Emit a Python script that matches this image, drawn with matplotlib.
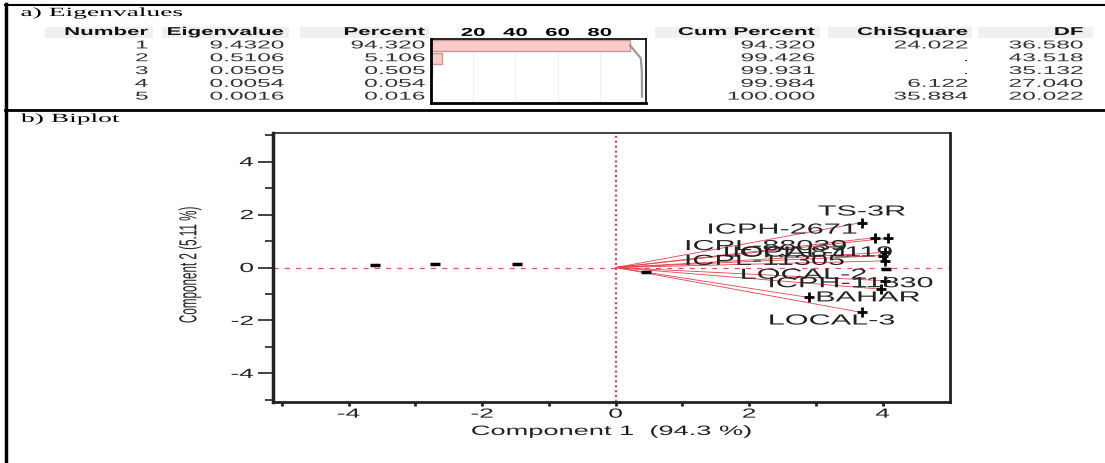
import matplotlib
matplotlib.use("Agg")
import matplotlib.pyplot as plt
from matplotlib.patheffects import AbstractPathEffect
from matplotlib.transforms import Affine2D
from matplotlib.lines import Line2D
from matplotlib.patches import Rectangle

plt.rcParams["font.family"] = ["Liberation Sans", "DejaVu Sans"]
plt.rcParams["axes.unicode_minus"] = False

W, H = 1105, 464

# a) Eigenvalues table
NUMBER = [1, 2, 3, 4, 5]
EIGENVALUE = [9.4320, 0.5106, 0.0505, 0.0054, 0.0016]
PERCENT = [94.320, 5.106, 0.505, 0.054, 0.016]
CUM_PERCENT = [94.320, 99.426, 99.931, 99.984, 100.000]
CHISQUARE = [24.022, None, None, 6.122, 35.884]
DF = [36.580, 43.518, 35.132, 27.040, 20.022]
HEADERS = ["Number", "Eigenvalue", "Percent", "Cum Percent", "ChiSquare", "DF"]

# b) Biplot
GENOTYPES = ["TS-3R", "ICPH-2671", "ICPL-88039", "ICPL-87119", "LOCAL-1",
             "ICPL-11305", "LOCAL-2", "ICPH-11830", "BAHAR", "LOCAL-3"]
GEN_PC1 = [3.69, 3.89, 4.08, 4.03, 4.00, 4.03, 4.03, 3.98, 2.89, 3.69]
GEN_PC2 = [1.70, 1.13, 1.11, 0.57, 0.45, 0.25, -0.50, -0.82, -1.13, -1.70]
OTHER_PC1 = [-3.60, -2.71, -1.48, 0.45, 4.05]
OTHER_PC2 = [0.11, 0.12, 0.14, -0.17, -0.06]

# label placement (offset in pixels, alignment)
LABEL_OFFSETS = [(0, 11), (-18, 8), (-41, -8), (8, 0), (-33, 3),
                 (-40, 0), (-18, 6), (52, 6), (8, 0), (-30, -8)]
LABEL_HA = ["center", "right", "right", "right", "right",
            "right", "right", "right", "left", "center"]


class HStretch(AbstractPathEffect):
    """Draw text stretched horizontally (the source image was widened)."""

    def __init__(self, sx, anchor="center"):
        super().__init__()
        self.sx = sx
        self.anchor = anchor

    def draw_path(self, renderer, gc, tpath, affine, rgbFace=None):
        bb = tpath.get_extents(affine)
        if self.anchor == "left":
            x0 = bb.x0
        elif self.anchor == "right":
            x0 = bb.x1
        else:
            x0 = 0.5 * (bb.x0 + bb.x1)
        st = Affine2D().translate(-x0, 0).scale(self.sx, 1).translate(x0, 0)
        renderer.draw_path(gc, tpath, affine + st, rgbFace)


fig = plt.figure(figsize=(W / 100, H / 100), dpi=100)


def ftext(x, y, s, ha="right", size=8, sx=2.15, **kw):
    return fig.text(x / W, 1 - y / H, s, ha=ha, va="center", fontsize=size,
                    path_effects=[HStretch(sx, ha)], **kw)


def hline(y, x0, x1, lw):
    fig.add_artist(Line2D([x0 / W, x1 / W], [1 - y / H, 1 - y / H], color="black", lw=lw))


# frame lines
hline(6, 5, W, 1.5)
hline(111, 5, W, 2)
fig.add_artist(Line2D([6 / W, 6 / W], [1 - 5 / H, 0], color="black", lw=2.5))

# section titles
ftext(21, 14, "a) Eigenvalues", ha="left", size=9, sx=2.2, family="Liberation Serif")
ftext(21, 120, "b) Biplot", ha="left", size=9, sx=2.2, family="Liberation Serif")

# table header
HEADER_Y = 33
ROW_Y = [40 + (i + 0.5) * 12.8 for i in range(5)]
COL_RIGHT = [148, 284, 425, 815, 968, 1083]
HEADER_BG = [(45, 153), (162, 289), (300, 429), (655, 820), (828, 972), (978, 1093)]

for (x0, x1) in HEADER_BG:
    fig.add_artist(Rectangle((x0 / W, 1 - 39 / H), (x1 - x0) / W, 11 / H,
                             facecolor="#f0f0f0", edgecolor="none"))

for name, xr in zip(HEADERS, COL_RIGHT):
    ftext(xr, HEADER_Y, name, sx=1.95, size=8.2, weight="bold", color="#111111")

columns = [
    [str(n) for n in NUMBER],
    [f"{v:.4f}" for v in EIGENVALUE],
    [f"{v:.3f}" for v in PERCENT],
    [f"{v:.3f}" for v in CUM_PERCENT],
    ["." if v is None else f"{v:.3f}" for v in CHISQUARE],
    [f"{v:.3f}" for v in DF],
]
for col, xr in zip(columns, COL_RIGHT):
    for s, y in zip(col, ROW_Y):
        ftext(xr, y, s, size=8.2, color="#333333")

# percent bar chart inside the table
bax = fig.add_axes([431 / W, 1 - 104 / H, 215 / W, 64 / H])
for g in [20, 40, 60, 80]:
    bax.axvline(g, color="#f0f0f0", lw=0.8, zorder=0)
bax.barh(range(len(PERCENT)), PERCENT, height=0.86, color="#fbcaca",
         edgecolor="#c49a9a", lw=1, zorder=2)
bax.plot(CUM_PERCENT, range(len(CUM_PERCENT)), color="#9a9a9a", lw=1.6, zorder=3)
bax.set_xlim(0, 101.9)
bax.set_ylim(4.5, -0.5)
bax.set_yticks([])
bax.set_xticks([20, 40, 60, 80])
bax.tick_params(axis="x", top=True, labeltop=True, bottom=False, labelbottom=False,
                length=0, pad=0.8, labelsize=8.2)
for lbl in bax.get_xticklabels():
    lbl.set_fontweight("bold")
    lbl.set_path_effects([HStretch(1.95, "center")])
for side, lw in [("left", 2), ("bottom", 2), ("top", 1.2), ("right", 1.2)]:
    bax.spines[side].set_linewidth(lw)

# biplot
ax = fig.add_axes([273.3 / W, 1 - 402.7 / H, 676.7 / W, 268.4 / H])
ax.set_xlim(-5.13, 5.01)
ax.set_ylim(-5.07, 5.07)
ax.axvline(0, color="#e05060", ls=(0, (1, 1.2)), lw=1.6, zorder=1)
ax.axhline(0, color="#e05060", ls=(0, (4, 5)), lw=0.9, zorder=1)

for x, y in zip(GEN_PC1, GEN_PC2):
    ax.plot([0, x], [0, y], color="#e8404a", lw=0.6, zorder=2)
ax.plot(GEN_PC1, GEN_PC2, "+", color="black", ms=6.5, mew=2, zorder=4)
ax.plot(OTHER_PC1, OTHER_PC2, "_", color="black", ms=7, mew=2.5, zorder=4)

for name, x, y, (dx, dy), ha in zip(GENOTYPES, GEN_PC1, GEN_PC2, LABEL_OFFSETS, LABEL_HA):
    ax.annotate(name, (x, y), xytext=(dx, dy), textcoords="offset pixels",
                ha=ha, va="center", fontsize=10.5, color="#222222", zorder=5,
                path_effects=[HStretch(2.1, ha)])

ax.set_xticks([-4, -2, 0, 2, 4])
ax.set_xticks([-5, -3, -1, 1, 3], minor=True)
ax.set_yticks([-4, -2, 0, 2, 4])
ax.set_yticks([-5, -3, -1, 1, 3, 5], minor=True)
ax.tick_params(axis="x", which="both", length=3, width=2, pad=2, labelsize=9.5,
               color="#222222", labelcolor="#222222")
ax.tick_params(axis="y", which="major", length=10.6, width=1.2, pad=3.6, labelsize=9.5,
               color="#222222", labelcolor="#222222")
ax.tick_params(axis="y", which="minor", length=6, width=1.2, color="#222222")
for lbl in ax.get_xticklabels():
    lbl.set_path_effects([HStretch(2.0, "center")])
for lbl in ax.get_yticklabels():
    lbl.set_path_effects([HStretch(2.0, "right")])

ax.set_xlabel("Component 1  (94.3 %)", fontsize=9.8, color="#222222")
ax.xaxis.label.set_va("center")
ax.xaxis.set_label_coords(0.5, (402.7 - 432) / 268.4)
ax.xaxis.label.set_path_effects([HStretch(2.0, "center")])

ax.set_ylabel("Component 2 (5.11 %)", fontsize=8.4, color="#222222")
ax.yaxis.label.set_va("center")
ax.yaxis.set_label_coords((190 - 273.3) / 676.7, (402.7 - 266) / 268.4)
ax.yaxis.label.set_path_effects([HStretch(2.1, "center")])

for side, lw in [("left", 2.5), ("bottom", 2), ("top", 1.2), ("right", 2)]:
    ax.spines[side].set_linewidth(lw)
    ax.spines[side].set_color("#222222")

fig.savefig("out.png", dpi=100)
